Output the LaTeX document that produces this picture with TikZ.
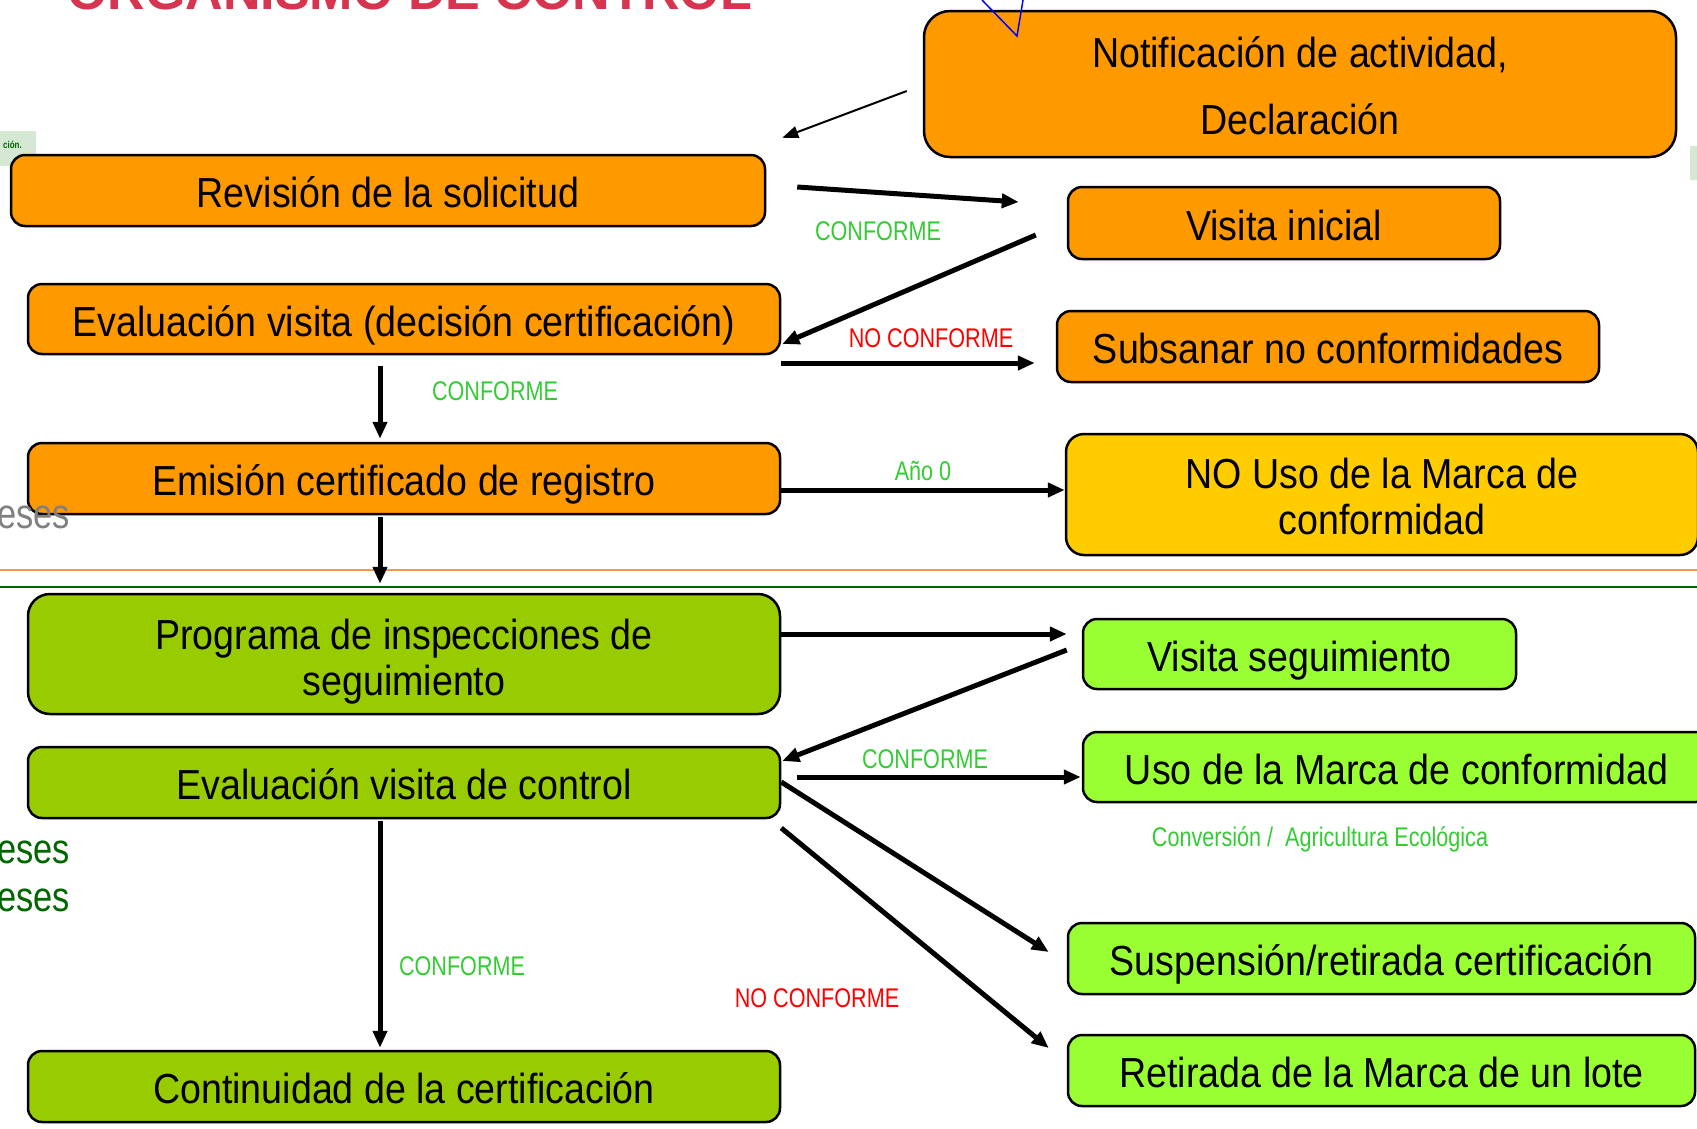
\documentclass[tikz,border=0pt]{standalone}
\usepackage{fontspec}
\setmainfont{Liberation Sans}[FakeStretch=0.895]
\newfontfamily\lblfont{Liberation Sans}[FakeStretch=0.8]
\newfontfamily\sidefont{Liberation Sans}[FakeStretch=0.82]
\newfontfamily\titlefont{Liberation Sans}
\usetikzlibrary{arrows.meta,calc}
\definecolor{boxorange}{HTML}{FF9900}
\definecolor{boxyellow}{HTML}{FFCC00}
\definecolor{boxgreen}{HTML}{99CC00}
\definecolor{boxlime}{HTML}{99FF33}
\definecolor{lblgreen}{HTML}{33CC33}
\definecolor{darkgreen}{HTML}{006600}
\definecolor{sepline}{HTML}{F79646}
\definecolor{titlered}{HTML}{D6344F}
\definecolor{tagbg}{HTML}{D5E8D4}
\tikzset{
  box/.style={draw=black, line width=2.5pt, rounded corners=14pt, inner sep=0pt,
    text height=34pt, text depth=0pt,
    align=center, font=\fontsize{42}{46}\selectfont},
  obox/.style={box, fill=boxorange},
  gbox/.style={box, fill=boxgreen},
  lbox/.style={box, fill=boxlime},
  flow/.style={line width=5pt, -{Triangle[length=17pt,width=14pt]}},
  thinflow/.style={line width=2pt, -{Triangle[length=16pt,width=12pt]}},
  lbl/.style={inner sep=0pt, font=\lblfont\fontsize{27}{30}\selectfont},
  oklbl/.style={lbl, text=lblgreen},
  nolbl/.style={lbl, text=red},
  side/.style={inner sep=0pt, anchor=base east, font=\sidefont\fontsize{42}{46}\selectfont}
}
\begin{document}
\begin{tikzpicture}[x=1pt,y=-1pt]
\useasboundingbox[fill=white] (0,0) rectangle (1697,1128);

% partial title and artifacts
\node[inner sep=0pt, anchor=base west, text=titlered, font=\titlefont\bfseries\fontsize{52}{56}\selectfont] (title) at (67,9) {ORGANISMO DE CONTROL};
\node[fill=tagbg, minimum width=36pt, minimum height=35pt, inner sep=0pt] (tag) at (18,148.5) {};
\node[inner sep=0pt, anchor=east, text=darkgreen, font=\lblfont\bfseries\fontsize{10}{12}\selectfont] (tagtxt) at (22,145) {ción.};
\node[fill=tagbg, minimum width=8pt, minimum height=34pt, inner sep=0pt] (tagr) at (1694,163) {};

% separator lines
\draw[sepline, line width=2.5pt] (0,570) -- (1697,570);
\draw[darkgreen, line width=2.5pt] (0,587) -- (1697,587);

% orange boxes
\node[obox, rounded corners=26pt, minimum width=752pt, minimum height=146pt, font=\fontsize{42}{67}\selectfont, text height=100pt, text depth=0pt] (notif) at (1300,84) {Notificación de actividad,\\Declaración};
\node[obox, minimum width=754pt, minimum height=71pt] (rev) at (388,190.5) {Revisión de la solicitud};
\node[obox, minimum width=432pt, minimum height=72pt] (visini) at (1284,223) {Visita inicial};
\node[obox, minimum width=752pt, minimum height=70pt] (evalv) at (404,319) {Evaluación visita (decisión certificación)};
\node[obox, minimum width=542pt, minimum height=71pt] (subs) at (1328,346.5) {Subsanar no conformidades};
\node[obox, minimum width=752pt, minimum height=71pt] (emision) at (404,478.5) {Emisión certificado de registro};
\node[box, fill=boxyellow, rounded corners=18pt, minimum width=632pt, minimum height=121pt, text height=80pt, text depth=0pt] (nouso) at (1382,494.5) {NO Uso de la Marca de\\conformidad};

% green boxes
\node[gbox, rounded corners=22pt, minimum width=752pt, minimum height=120pt, text height=82pt, text depth=0pt] (prog) at (404,654) {Programa de inspecciones de\\seguimiento};
\node[gbox, minimum width=752pt, minimum height=71pt] (evalc) at (404,782.5) {Evaluación visita de control};
\node[gbox, minimum width=752pt, minimum height=71pt] (cont) at (404,1086.5) {Continuidad de la certificación};
\node[lbox, minimum width=433pt, minimum height=70pt] (visseg) at (1299.5,654) {Visita seguimiento};
\node[lbox, minimum width=627pt, minimum height=70pt] (uso) at (1396.5,767) {Uso de la Marca de conformidad};
\node[lbox, minimum width=627pt, minimum height=71pt] (susp) at (1381.5,958.5) {Suspensión/retirada certificación};
\node[lbox, minimum width=627pt, minimum height=71pt] (retir) at (1381.5,1070.5) {Retirada de la Marca de un lote};

% overlay marks (drawn over the boxes)
\draw[blue, line width=1.5pt] (982,0) -- (1017,36) -- (1023,0);
\node[side, text=gray] (s1) at (70,528) {eses};
\node[side, text=darkgreen] (s2) at (70,863) {eses};
\node[side, text=darkgreen] (s3) at (70,911) {eses};

% connectors
\draw[thinflow] ($(notif.west)+(-16,7)$) -- ($(rev.north east)+(16,-16)$);
\draw[flow] ($(rev.east)+(31,-3.5)$) -- ($(visini.west)+(-48,-21)$);
\draw[flow] ($(visini.west)+(-31,12)$) -- ($(evalv.east)+(1,25)$);
\draw[flow] ($(evalv.east)+(0,44)$) -- ($(subs.west)+(-21,16.5)$);
\draw[flow] ($(evalv.south)+(-24,11)$) -- ($(emision.north)+(-24,-3)$);
\draw[flow] ($(emision.east)+(0,11.5)$) -- ($(nouso.west)+(0,-4.5)$);
\draw[flow] ($(emision.south)+(-24,2)$) -- ($(prog.north)+(-24,-9)$);
\draw[flow] ($(prog.east)+(0,-20)$) -- ($(visseg.west)+(-15,-20)$);
\draw[flow] ($(visseg.west)+(-15,-4)$) -- ($(evalc.east)+(1,-21.5)$);
\draw[flow] ($(evalc.east)+(16,-5.5)$) -- ($(uso.west)+(-1,10)$);
\draw[flow] ($(evalc.east)+(0,-0.5)$) -- ($(susp.west)+(-18,-6.5)$);
\draw[flow] ($(evalc.east)+(0,45.5)$) -- ($(retir.west)+(-18,-22.5)$);
\draw[flow] ($(evalc.south)+(-24,2)$) -- ($(cont.north)+(-24,-2)$);

% labels
\node[oklbl] (l1) at (878,231) {CONFORME};
\node[nolbl] (l2) at (931,338) {NO CONFORME};
\node[oklbl] (l3) at (495,391) {CONFORME};
\node[oklbl] (l4) at (923,471) {Año 0};
\node[oklbl] (l5) at (925,759) {CONFORME};
\node[oklbl] (l6) at (1320,839) {Conversión /\ \ Agricultura Ecológica};
\node[oklbl] (l7) at (462,966) {CONFORME};
\node[nolbl] (l8) at (817,998) {NO CONFORME};
\end{tikzpicture}
\end{document}
